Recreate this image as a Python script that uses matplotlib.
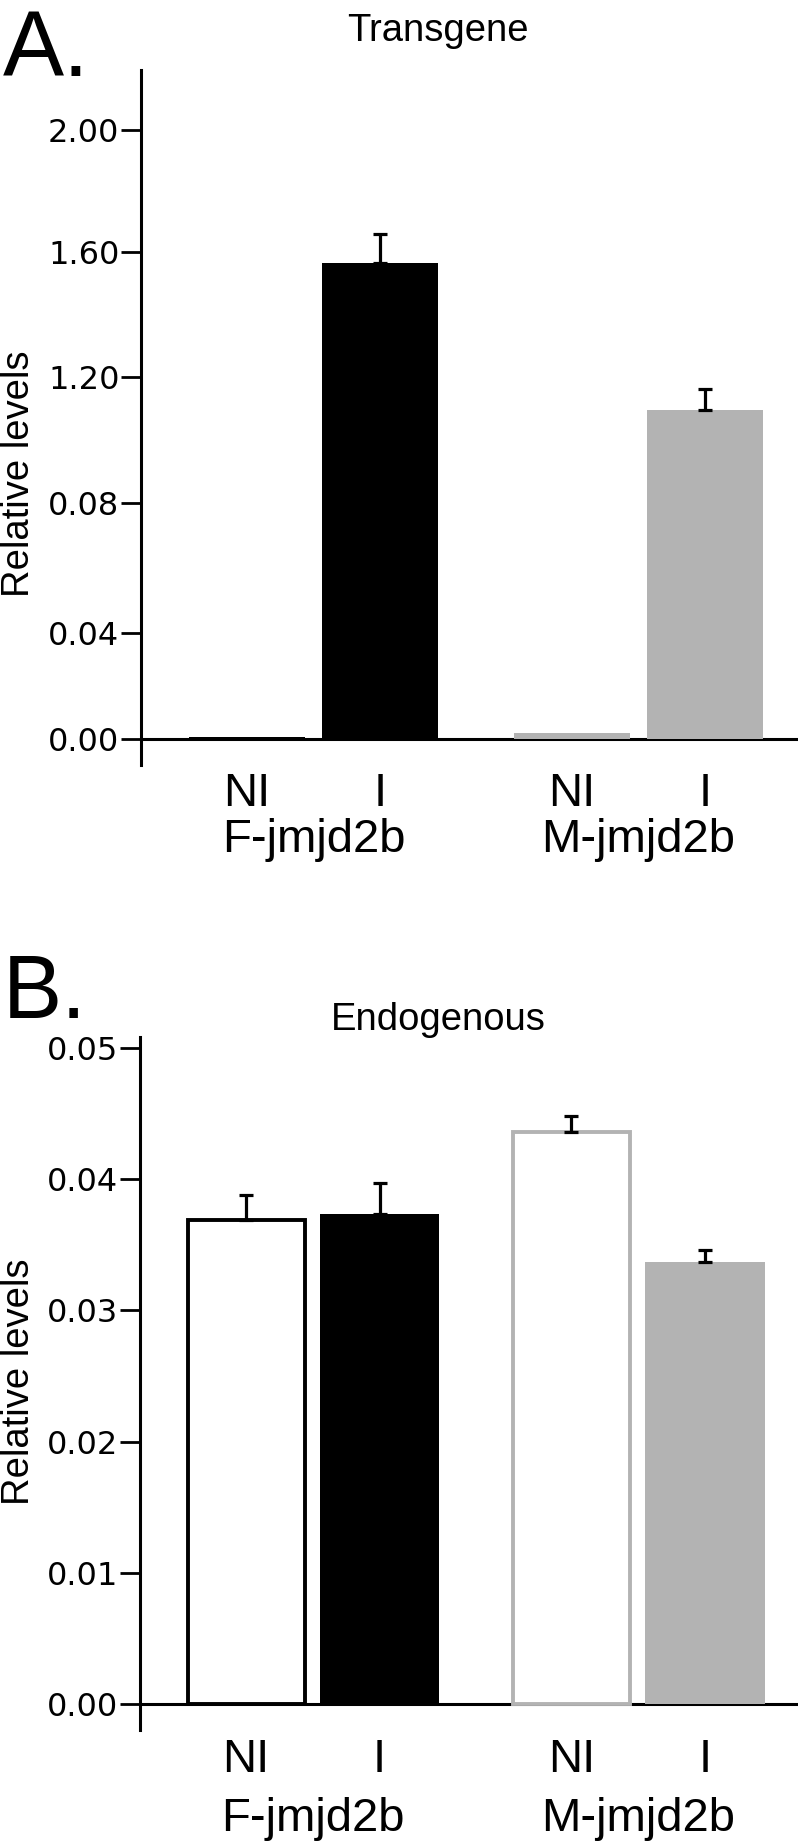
import matplotlib
matplotlib.use('Agg')
import matplotlib.pyplot as plt
import numpy as np

W, H = 800, 1847

groups = ['F-jmjd2b', 'M-jmjd2b']
conditions = ['NI', 'I']

# Panel A: Transgene
transgene_vals = [0.008, 1.563, 0.02, 1.080]
transgene_err = [0.0, 0.094, 0.0, 0.071]
transgene_ticks = [0.0, 0.35, 0.775, 1.19, 1.60, 2.0]
transgene_ticklabels = ['0.00', '0.04', '0.08', '1.20', '1.60', '2.00']

# Panel B: Endogenous
endog_vals = [0.0369, 0.03735, 0.0436, 0.0337]
endog_err = [0.0019, 0.0024, 0.0012, 0.0009]
endog_ticks = [0.00, 0.01, 0.02, 0.03, 0.04, 0.05]
endog_ticklabels = ['0.00', '0.01', '0.02', '0.03', '0.04', '0.05']

GRAY = '#b3b3b3'
TXT = ['Liberation Sans', 'DejaVu Sans']
TICKF = ['DejaVu Sans']

GROUP_GAP = 2.44
xpos = np.array([g * GROUP_GAP + c for g in range(len(groups)) for c in range(len(conditions))])
group_centers = [g * GROUP_GAP + (len(conditions) - 1) / 2 for g in range(len(groups))]
xlabels = [c for g in groups for c in conditions]

fig = plt.figure(figsize=(W / 100, H / 100), dpi=100)


def px_axes(left, top, right, bottom):
    return fig.add_axes([left / W, 1 - bottom / H, (right - left) / W, (bottom - top) / H])


def style_axis(ax, ylim, ticks, ticklabels, label_top_px, ax_bottom_px):
    ax.set_xlim(-0.797, 4.14)
    ax.set_ylim(*ylim)
    for s in ['top', 'right', 'bottom']:
        ax.spines[s].set_visible(False)
    ax.spines['left'].set_linewidth(2.2)
    ax.axhline(0, color='black', lw=2.2, zorder=1)
    ax.set_yticks(ticks)
    ax.set_yticklabels(ticklabels, fontsize=23, family=TICKF)
    ax.tick_params(axis='y', length=14.5, width=2.0, pad=1)
    ax.set_xticks(xpos)
    ax.set_xticklabels(xlabels, fontsize=34, family=TXT)
    ax.tick_params(axis='x', length=0, pad=(label_top_px - ax_bottom_px) * 0.72)


# ---------- Panel A ----------
axA = px_axes(141, 70, 798, 765)
bar_colors_A = ['black', 'black', GRAY, GRAY]
axA.bar(xpos, transgene_vals, width=0.87, color=bar_colors_A, edgecolor='none', zorder=2)
for x, v, e in zip(xpos, transgene_vals, transgene_err):
    if e > 0:
        axA.errorbar(x, v, yerr=[[0], [e]], fmt='none', ecolor='black', elinewidth=2.3,
                     capsize=5, capthick=2.3, zorder=3)
style_axis(axA, (-0.085, 2.197), transgene_ticks, transgene_ticklabels, 772, 765)

# ---------- Panel B ----------
axB = px_axes(140, 1037, 798, 1730)
faces_B = ['white', 'black', 'white', GRAY]
edges_B = ['black', 'black', GRAY, GRAY]
lws_B = [2.8, 0, 2.8, 0]
for x, v, fc, ec, lw in zip(xpos, endog_vals, faces_B, edges_B, lws_B):
    axB.bar(x, v, width=0.9 if lw == 0 else 0.88, color=fc, edgecolor=ec if lw > 0 else 'none',
            linewidth=lw, zorder=2)
for x, v, e in zip(xpos, endog_vals, endog_err):
    axB.errorbar(x, v, yerr=[[0], [e]], fmt='none', ecolor='black', elinewidth=2.3,
                 capsize=5, capthick=2.3, zorder=3)
style_axis(axB, (-0.00198, 0.05084), endog_ticks, endog_ticklabels, 1738, 1730)

# group labels
for ax, top_px in [(axA, 818), (axB, 1797)]:
    for gc, gname in zip(group_centers, groups):
        xd = ax.transData.transform((gc, 0))[0]
        fig.text(xd / (fig.dpi * fig.get_figwidth()), 1 - top_px / H, gname, ha='center', va='top',
                 fontsize=34, family=TXT)

# y labels
for cy in [474, 1382]:
    fig.text(19 / W, 1 - cy / H, 'Relative levels', rotation=90, ha='center', va='center',
             fontsize=27.5, family=TXT)

# panel letters and titles
fig.text(3 / W, 1 - 76 / H, 'A.', ha='left', va='baseline', fontsize=66, family=TXT)
fig.text(3 / W, 1 - 1018 / H, 'B.', ha='left', va='baseline', fontsize=64, family=TXT)
fig.text(438 / W, 1 - 41 / H, 'Transgene', ha='center', va='baseline', fontsize=27.5, family=TXT)
fig.text(438 / W, 1 - 1030 / H, 'Endogenous', ha='center', va='baseline', fontsize=27.5, family=TXT)

fig.savefig('out.png', dpi=100)
